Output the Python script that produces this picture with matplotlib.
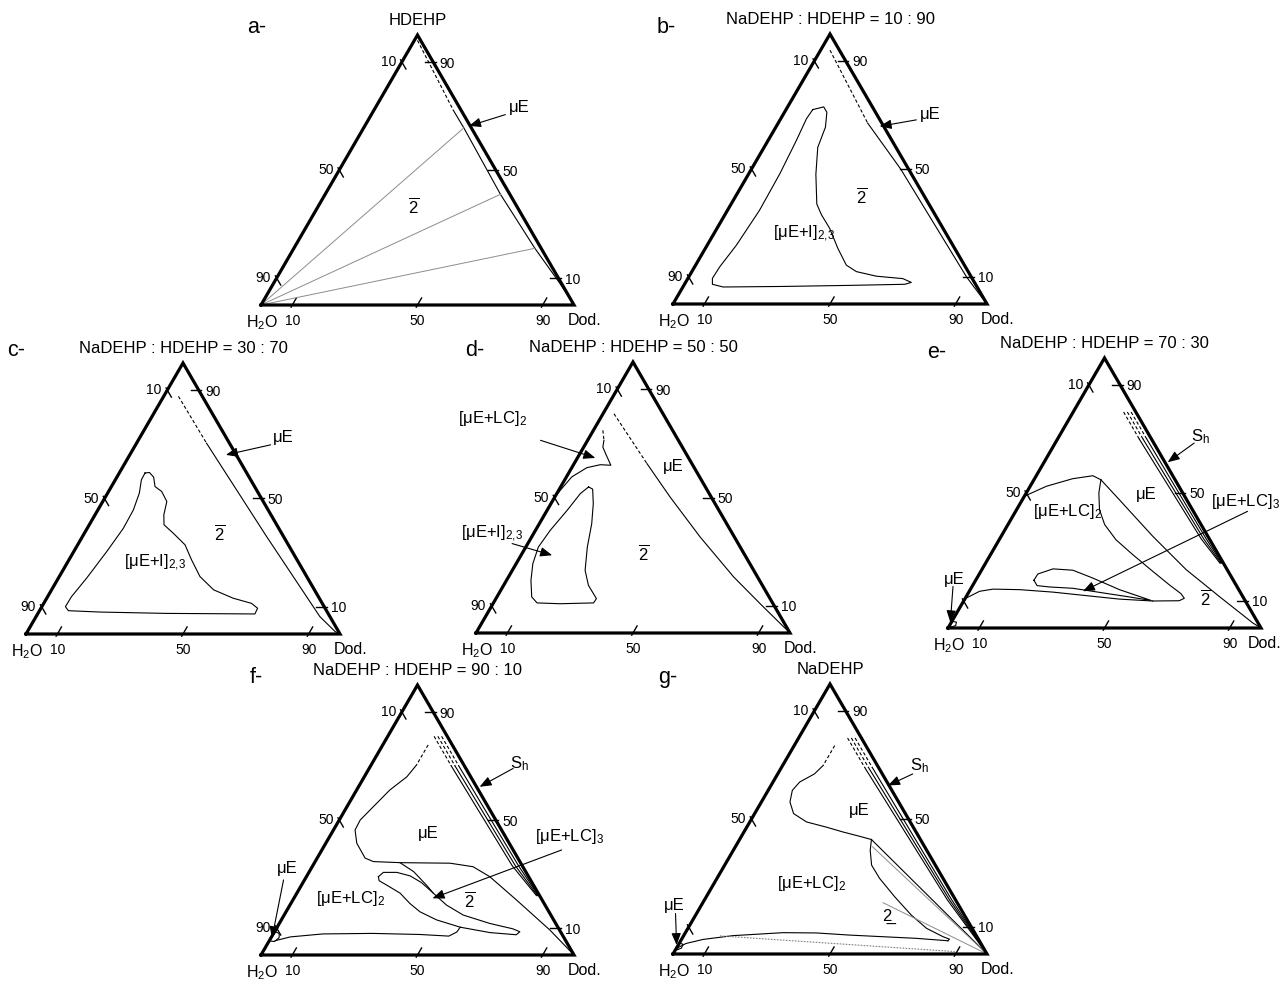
import numpy as np
import matplotlib.pyplot as plt

plt.rcParams['font.family'] = ['Liberation Sans', 'DejaVu Sans']
plt.rcParams['mathtext.fontset'] = 'custom'
plt.rcParams['mathtext.rm'] = 'Liberation Sans'
plt.rcParams['mathtext.it'] = 'Liberation Sans:italic'
plt.rcParams['mathtext.bf'] = 'Liberation Sans:bold'

# compositions are (surfactant %, dodecane %); water is the rest

# a- HDEHP
a_mu_dash = [(98, 1), (72, 25.5)]
a_mu_line = [(72, 25.5), (65.6, 32), (41, 56), (21, 77), (8, 91.5), (0, 100)]
a_tie_ends = [(65.6, 32), (41, 56), (21, 77)]

# b- 10:90
b_mu_dash = [(94, 3), (67, 28.5)]
b_mu_line = [(67, 28.5), (50, 47.5), (30, 68), (10, 88.5), (3, 96.5), (0, 100)]
b_loop = [(72, 8.5), (73, 11.5), (71, 13.5), (65.5, 15.8), (58, 17.1), (48, 21.5), (37, 27.3),
          (33, 30.8), (28, 35.9), (20.6, 42.2), (14.4, 48), (12, 52.4), (10.3, 59.6), (9.4, 68.5),
          (8, 71.9), (7.3, 70.2), (6.9, 52.9), (6.5, 31.7), (6.3, 12.8), (7.3, 8.9), (9.5, 7.8),
          (13.8, 8.0), (21.8, 9.3), (34.7, 10.2), (48.3, 9.9), (60.6, 9.0), (68.6, 8.2)]

# c- 30:70
c_mu_dash = [(87.7, 4.7), (70.4, 22.3)]
c_mu_line = [(70.4, 22.3), (36, 58.6), (6.4, 90.4), (0.9, 98), (0, 100)]
c_loop = [(59.4, 8.2), (59.6, 9.5), (57.9, 11.7), (54.4, 13.9), (52.6, 16.9), (48.9, 20.4),
          (44.0, 21.9), (40.3, 23.8), (37.2, 28.3), (32.9, 34.2), (27.3, 39.1), (21.2, 44.8),
          (16.3, 51.6), (13.2, 59.4), (11.3, 66.2), (9.5, 69.0), (7.4, 69.2), (7.6, 41.0),
          (8.1, 19.5), (8.6, 9.2), (10.1, 7.5), (13.8, 7.6), (20.6, 9.0), (30.4, 10.5),
          (39.0, 11.5), (45.8, 11.3), (52.0, 10.1), (56.9, 8.3)]

# d- 50:50
d_mu_dash = [(80.9, 3.5), (62.5, 23.2)]
d_mu_line = [(62.5, 23.2), (50.2, 36.7), (35.4, 53.7), (20.7, 71.7), (10.8, 85.1), (4.7, 93.5), (0, 100)]
d_lc2_dash = [(74.8, 3.0), (71.1, 5.2)]
d_lc2 = [(71.1, 5.2), (68.6, 6.1), (65.6, 8.7), (61.9, 12.0), (62.1, 8.5), (61.0, 4.8),
         (57.6, 1.7), (52.6, 0.5), (49.6, 0)]
d_loop = [(53.9, 8.9), (53.1, 10.6), (47.7, 13.5), (40.3, 16.7), (31.7, 19.6), (23.1, 23.2),
          (17.6, 27.0), (12.7, 32.0), (11.1, 31.9), (10.8, 21.4), (11.1, 13.9), (13.3, 11.1),
          (19.4, 7.8), (25.6, 5.3), (31.7, 4.0), (37.9, 4.7), (45.3, 6.4), (51.4, 7.5)]

# e- 70:30
e_sh_dash = [[(80, 18.5), (70, 28.5)], [(80, 17.3), (70, 27.3)], [(80, 16.1), (70, 26.1)]]
e_sh_line = [[(70, 28.5), (33, 66.0), (24, 75.5)], [(70, 27.3), (33, 65.2), (24, 75.2)],
             [(70, 26.1), (33, 64.4), (24, 74.9)]]
e_top = [(48.8, 0), (52.5, 5.2), (55.3, 12.2), (56.4, 18.1), (54.9, 21.4)]
e_diag = [(54.9, 21.4), (47.5, 31.0), (34.0, 48.4), (21.6, 65.3), (11.7, 80.8), (1.9, 96.4), (0, 100)]
e_lc2_right = [(54.9, 21.4), (50.0, 23.2), (43.8, 26.5), (38.3, 30.9), (32.7, 37.3), (27.2, 45.4),
               (21.0, 54.9), (16.0, 62.7), (12.7, 68.1), (11.0, 70.0), (10.1, 68.8), (10.0, 60.4)]
e_bottom = [(10.0, 60.4), (10.7, 49.4), (12.0, 38.1), (13.3, 26.8), (14.2, 15.8), (14.4, 7.2),
            (13.6, 3.3), (11.1, 0.3), (7.4, 0)]
e_loop3 = [(17.7, 18.6), (20.0, 18.7), (21.9, 22.6), (21.4, 29.2), (18.5, 37.0), (14.2, 47.7),
           (10.2, 59.8), (11.7, 51.0), (13.2, 41.8), (14.7, 32.6), (15.2, 24.8), (15.7, 20.6)]
e_mu_corner = [(0.6, 0.3), (2.4, 0.3), (2.2, 1.6), (0.9, 2.0), (0.4, 1.0)]

# f- 90:10
f_sh_dash = [[(81, 17.2), (70, 28.2)], [(81, 16.0), (70, 27.0)], [(81, 14.8), (70, 25.8)]]
f_sh_line = [[(70, 28.2), (33, 65.8), (22, 77.6)], [(70, 27.0), (33, 64.8), (22, 77.3)],
             [(70, 25.8), (33, 63.8), (22, 77.0)]]
f_mu_dash = [(77.8, 14.5), (70.4, 14.5)]
f_mu_line = [(70.4, 14.5), (66.0, 13.6), (61.1, 10.6), (53.7, 8.0), (50.0, 6.7), (46.3, 6.9),
             (41.4, 9.9), (35.9, 15.3), (34.6, 18.6), (34.2, 27.3), (34.0, 43.4), (32.7, 51.4),
             (29.0, 58.6), (20.4, 71.4), (9.3, 87.6), (0, 100)]
f_branch = [(34.2, 27.3), (30.9, 33.3), (25.9, 39.9), (22.9, 43.6)]
f_loop3 = [(29.0, 23.0), (30.6, 23.8), (30.6, 28.1), (29.3, 33.0), (26.8, 37.9), (22.9, 43.6),
           (18.5, 50.0), (14.8, 57.2), (11.7, 67.2), (9.7, 75.6), (8.6, 78.4), (7.5, 77.8),
           (8.3, 69.0), (10.3, 58.5), (13.0, 49.6), (16.0, 42.8), (19.1, 38.0), (22.9, 33.0),
           (25.9, 27.2), (27.5, 24.0)]
f_bottom = [(5.3, 1.9), (6.7, 6.0), (7.8, 15.8), (8.0, 31.5), (7.6, 46.9), (7.0, 56.5),
            (8.5, 58.3), (10.3, 58.5)]
f_mu_corner = [(8.6, 0.2), (8.0, 1.8), (6.4, 2.6), (5.0, 1.8), (5.2, 0.2)]

# g- NaDEHP
g_sh_dash = [[(80, 18.0), (69, 29.0)], [(80, 16.8), (69, 27.8)], [(80, 15.6), (69, 26.6)]]
g_sh_line = [[(69, 29.0), (20, 78.8), (0, 100)], [(69, 27.8), (20, 78.1), (0, 100)],
             [(69, 26.6), (20, 77.4), (0, 100)]]
g_mu_dash = [(77.2, 12.9), (69.8, 12.9)]
g_mu_line = [(69.8, 12.9), (66.7, 11.7), (63.7, 8.5), (60.6, 7.7), (56.3, 9.1), (52.0, 12.4),
             (48.9, 18.1), (47.0, 25.3), (45.2, 31.5), (43.6, 37.6), (42.4, 42.0)]
g_mu_to_dod = [(42.4, 42.0), (0, 100)]
g_two_right = [(42.4, 42.0), (38.4, 43.6), (32.9, 46.8), (28.0, 51.8), (21.2, 60.0), (14.4, 68.7),
               (9.5, 76.0), (6.4, 82.8), (5.5, 85.3), (4.9, 85.1)]
g_bottom = [(2.0, 0), (3.9, 2.2), (5.4, 6.9), (6.8, 15.7), (7.9, 31.1), (7.8, 41.7), (7.0, 52.8),
            (6.4, 63.7), (5.8, 74.6), (4.9, 85.1)]
g_tie_ends = [(39.7, 43.7), (19.0, 57.4)]
g_dotted = [(6.7, 11.6), (0.9, 89.3)]
g_mu_corner = [(4.0, 0.2), (3.6, 1.4), (2.2, 1.6), (1.5, 0.5)]

tick_values = [10, 50, 90]

# ---------------------------------------------------------------
W_FIG, H_FIG = 1282, 981
fig = plt.figure(figsize=(12.82, 9.81), dpi=100)

# triangle box in pixels: left corner x, bottom y, width, height
boxes = {
    'a': (261, 305, 313, 270),
    'b': (673, 304, 314, 270),
    'c': (26, 634, 314, 271),
    'd': (476, 633, 314, 271),
    'e': (948, 628, 313, 270),
    'f': (261, 955, 313, 270),
    'g': (673, 954, 314, 270),
}
letters_px = {'a': (247, 25), 'b': (657, 25), 'c': (7, 348), 'd': (465, 348),
              'e': (927, 350), 'f': (250, 675), 'g': (658, 675)}
titles = {'a': 'HDEHP', 'b': 'NaDEHP : HDEHP = 10 : 90', 'c': 'NaDEHP : HDEHP = 30 : 70',
          'd': 'NaDEHP : HDEHP = 50 : 50', 'e': 'NaDEHP : HDEHP = 70 : 30',
          'f': 'NaDEHP : HDEHP = 90 : 10', 'g': 'NaDEHP'}


def tern(pts):
    p = np.asarray(pts, dtype=float)
    return p[:, 1] + p[:, 0] / 2, p[:, 0]


def pt(sd):
    return sd[1] + sd[0] / 2, sd[0]


STYLES = {
    'line': dict(color='k', lw=0.8),
    'loop': dict(color='k', lw=0.8),
    'dash': dict(color='k', lw=0.8, ls=(0, (3, 2))),
    'gray': dict(color='0.55', lw=0.7),
    'dot': dict(color='0.5', lw=0.8, ls=(0, (1.5, 1.2))),
}


def draw(ax, pts, kind):
    x, y = tern(pts)
    if kind == 'loop':
        x = np.append(x, x[0])
        y = np.append(y, y[0])
    ax.plot(x, y, clip_on=False, solid_joinstyle='round', **STYLES[kind])


def frame(key, left_labels=(True, True, True), dod_shift=-4.5):
    x0, yb, w, h = boxes[key]
    ax = fig.add_axes([x0 / W_FIG, 1 - yb / H_FIG, w / W_FIG, h / H_FIG])
    ax.set_xlim(0, 100)
    ax.set_ylim(0, 100)
    ax.axis('off')
    tx, ty = tern([(0, 0), (0, 100), (100, 0), (0, 0)])
    ax.plot(tx, ty, color='k', lw=2.3, solid_joinstyle='miter', clip_on=False, zorder=5)
    i, o = 2.6, 0.8
    for v, show_left in zip(tick_values, left_labels):
        # left edge: water %
        ax.plot(*tern([(100 - v + o, -o), (100 - v - i, i)]), color='k', lw=1.0, clip_on=False)
        if show_left:
            ax.annotate(str(v), pt((100 - v, 0)), xytext=(-4, 1), textcoords='offset points',
                        ha='right', va='center_baseline', fontsize=10)
        # right edge: surfactant %
        ax.plot(*tern([(v, 100 - v + o), (v, 100 - v - i)]), color='k', lw=1.0, clip_on=False)
        ax.annotate(str(v), pt((v, 100 - v)), xytext=(4.5, 0), textcoords='offset points',
                    ha='left', va='center_baseline', fontsize=10)
        # bottom edge: dodecane %
        ax.plot(*tern([(-o, v), (i, v)]), color='k', lw=1.0, clip_on=False)
        ax.annotate(str(v), pt((0, v)), xytext=(0, -6.5), textcoords='offset points',
                    ha='center', va='top', fontsize=10)
    ax.annotate('H$_\\mathrm{2}$O', pt((0, 0)), xytext=(1, -6), textcoords='offset points',
                ha='center', va='top', fontsize=11.5)
    ax.annotate('Dod.', pt((0, 100)), xytext=(dod_shift, -6), textcoords='offset points',
                ha='left', va='top', fontsize=11.5)
    ax.annotate(titles[key], pt((100, 0)), xytext=(0, 7), textcoords='offset points',
                ha='center', va='baseline', fontsize=12)
    lx, ly = letters_px[key]
    fig.text(lx / W_FIG, 1 - ly / H_FIG, key + '-', ha='left', va='center_baseline', fontsize=15.5)
    return ax


def label(ax, text, sd, size=12, ha='center'):
    x, y = pt(sd)
    ax.text(x, y, text, ha=ha, va='center', fontsize=size, clip_on=False)


def arrow(ax, tail, tip):
    ax.annotate('', xy=pt(tip), xytext=pt(tail),
                arrowprops=dict(arrowstyle='-|>,head_length=0.55,head_width=0.22', color='k',
                                lw=0.8, shrinkA=0, shrinkB=0, mutation_scale=13))


TWO = r'$\overline{\mathrm{2}}$'
SUB23 = '$_\\mathrm{2{,}3}$'

# a
ax = frame('a')
draw(ax, a_mu_dash, 'dash')
draw(ax, a_mu_line, 'line')
for end in a_tie_ends:
    draw(ax, [(0, 0), end], 'gray')
label(ax, TWO, (36.7, 30.3))
label(ax, 'μE', (73, 46))
arrow(ax, (70.5, 42.8), (66.3, 33.3))

# b
ax = frame('b')
draw(ax, b_mu_dash, 'dash')
draw(ax, b_mu_line, 'line')
draw(ax, b_loop, 'loop')
label(ax, '[μE+I]' + SUB23, (26, 28.8))
label(ax, TWO, (40, 40))
label(ax, 'μE', (70, 46.8))
arrow(ax, (68.2, 43.4), (65.8, 32.9))

# c
ax = frame('c')
draw(ax, c_mu_dash, 'dash')
draw(ax, c_mu_line, 'line')
draw(ax, c_loop, 'loop')
label(ax, '[μE+I]' + SUB23, (26.1, 28.0))
label(ax, TWO, (37.2, 43.2))
label(ax, 'μE', (72.5, 45.8))
arrow(ax, (69.8, 43.0), (66.1, 30.6))

# d
ax = frame('d')
draw(ax, d_mu_dash, 'dash')
draw(ax, d_mu_line, 'line')
draw(ax, d_lc2_dash, 'dash')
draw(ax, d_lc2, 'line')
draw(ax, d_loop, 'loop')
label(ax, '[μE+LC]$_\\mathrm{2}$', (79.1, -34.4))
arrow(ax, (71.1, -15.0), (64.6, 5.7))
label(ax, '[μE+I]' + SUB23, (36.7, -13.2))
arrow(ax, (33.0, -5.0), (28.7, 9.9))
label(ax, TWO, (29.5, 38.5))
label(ax, 'μE', (61.3, 32.3))

# e
ax = frame('e', left_labels=(True, True, False), dod_shift=-9.5)
for seg in e_sh_dash:
    draw(ax, seg, 'dash')
for seg in e_sh_line:
    draw(ax, seg, 'line')
draw(ax, e_top, 'line')
draw(ax, e_diag, 'line')
draw(ax, e_lc2_right, 'line')
draw(ax, e_bottom, 'line')
draw(ax, e_loop3, 'loop')
draw(ax, e_mu_corner, 'loop')
label(ax, 'S$_\\mathrm{h}$', (71.0, 45.3))
arrow(ax, (68.5, 44.4), (61.4, 39.5))
label(ax, 'μE', (49.4, 38.6))
label(ax, '[μE+LC]$_\\mathrm{2}$', (43.2, 16.7))
label(ax, '[μE+LC]$_\\mathrm{3}$', (46.7, 82.6), ha='right')
arrow(ax, (43.2, 74.1), (13.6, 36.3))
label(ax, TWO, (11.1, 76.6))
label(ax, 'μE', (17.9, -6.9))
arrow(ax, (15.4, -6.1), (2.1, -0.3))

# f
ax = frame('f')
for seg in f_sh_dash:
    draw(ax, seg, 'dash')
for seg in f_sh_line:
    draw(ax, seg, 'line')
draw(ax, f_mu_dash, 'dash')
draw(ax, f_mu_line, 'line')
draw(ax, f_branch, 'line')
draw(ax, f_loop3, 'loop')
draw(ax, f_bottom, 'line')
draw(ax, f_mu_corner, 'loop')
label(ax, 'S$_\\mathrm{h}$', (71.0, 47.2))
arrow(ax, (69.1, 46.0), (62.3, 38.7))
label(ax, 'μE', (45.1, 31.0))
label(ax, '[μE+LC]$_\\mathrm{3}$', (43.8, 76.7))
arrow(ax, (38.9, 76.6), (21.0, 44.3))
label(ax, '[μE+LC]$_\\mathrm{2}$', (21.0, 18.0))
label(ax, TWO, (20.4, 56.5))
label(ax, 'μE', (32.1, -7.8))
arrow(ax, (27.8, -6.7), (6.2, 0.4))

# g
ax = frame('g', left_labels=(True, True, False))
for seg in g_sh_dash:
    draw(ax, seg, 'dash')
for seg in g_sh_line:
    draw(ax, seg, 'line')
draw(ax, g_mu_dash, 'dash')
draw(ax, g_mu_line, 'line')
draw(ax, g_mu_to_dod, 'line')
draw(ax, g_two_right, 'line')
draw(ax, g_bottom, 'line')
for end in g_tie_ends:
    draw(ax, [end, (0, 100)], 'gray')
draw(ax, g_dotted, 'dot')
draw(ax, g_mu_corner, 'loop')
label(ax, 'S$_\\mathrm{h}$', (69.8, 43.6))
arrow(ax, (66.7, 43.0), (62.4, 37.3))
label(ax, 'μE', (53.2, 32.8))
label(ax, '[μE+LC]$_\\mathrm{2}$', (26.1, 31.0))
label(ax, '2\u0332', (13.8, 61.3))
label(ax, 'μE', (18.1, -8.5))
arrow(ax, (15.0, -6.7), (3.3, -0.5))

fig.savefig('out.png', dpi=100)
